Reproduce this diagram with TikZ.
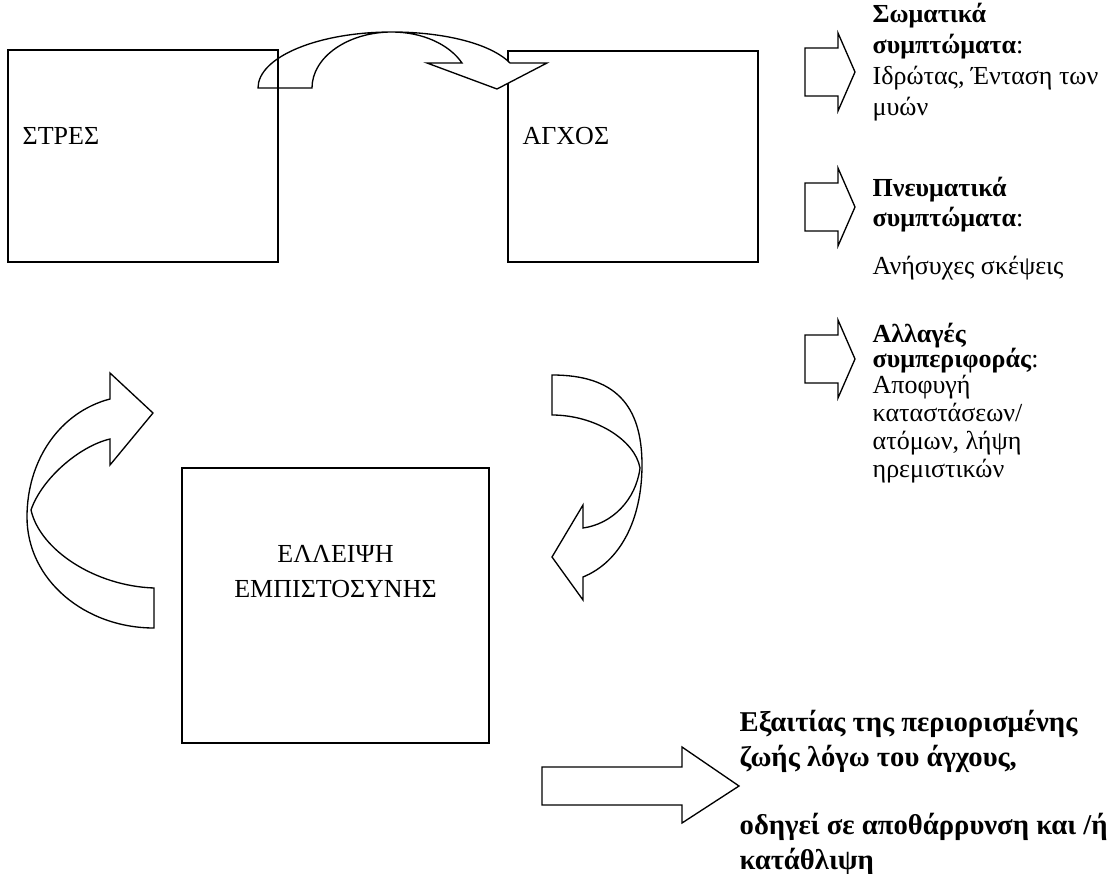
\documentclass[tikz,border=0pt]{standalone}
\usepackage{fontspec}
\setmainfont{Liberation Serif}
\begin{document}
\begin{tikzpicture}[x=0.75pt, y=-0.75pt, line width=1pt,
	box/.style={draw, line width=1pt},
	blockarrow/.style={draw, fill=white, line width=1pt, line join=miter},
	txt/.style={anchor=base west, inner sep=0pt, font=\fontsize{19.5}{22.5}\selectfont},
	ctxt/.style={txt, anchor=base},
	btxt/.style={txt, font=\fontsize{21.5}{26}\selectfont\bfseries}]
	\useasboundingbox (0,0) rectangle (1111,874);
	
	%boxes
	\draw[box] (508,51) rectangle (758,262);
	\draw[box] (182,468) rectangle (489,743);
	
	%arrow stres -> agxos
	\draw[blockarrow] (258,88) .. controls (258,57) and (318,32) .. (392,32)
		.. controls (443.6,32) and (490.8,43.5) .. (510,63) -- (547,63) -- (497,89) -- (427,63) -- (462,63)
		.. controls (448.9,43.9) and (421.7,32) .. (392,32)
		.. controls (348,32) and (312,57) .. (312,88) -- cycle;
	\draw[box] (8,50) rectangle (278,262);
	
	\node[txt] (stres) at (22,145) {ΣΤΡΕΣ};
	\node[txt] (agxos) at (522,145) {ΑΓΧΟΣ};
	\node[ctxt] (elleipsi) at (335.5,562) {ΕΛΛΕΙΨΗ};
	\node[ctxt] (empistosynis) at (335.5,597) {ΕΜΠΙΣΤΟΣΥΝΗΣ};
	
	%circle arrows
	\draw[blockarrow] (110,399) .. controls (60,412) and (27,460) .. (27,517)
		.. controls (27,580) and (85,628) .. (154,628) -- (154,588)
		.. controls (95,586) and (40,550) .. (31,510)
		.. controls (42,478) and (80,446) .. (110,439) -- (110,465) -- (153,413) -- (110,373) -- cycle;
	\draw[blockarrow] (552,375) .. controls (615,375) and (642,405) .. (642,465)
		.. controls (642,520) and (620,562) .. (583,577) -- (583,600) -- (552,557) -- (583,505) -- (583,528)
		.. controls (612,524) and (636,500) .. (640,468)
		.. controls (635,440) and (595,415) .. (552,415) -- cycle;
	
	%symptoms
	\foreach \c in {72, 207, 359}{
		\draw[blockarrow] (805,\c-24) -- (838,\c-24) -- (838,\c-39) -- (855,\c) -- (838,\c+39) -- (838,\c+24) -- (805,\c+24) -- cycle;
	}
	\foreach \y/\t [count=\i] in {23/{\textbf{Σωματικά}}, 54/{\textbf{συμπτώματα}:}, 85/{Ιδρώτας, Ένταση των}, 116/{μυών}}{
		\node[txt] (soma\i) at (872,\y) {\t};
	}
	\foreach \y/\t [count=\i] in {196/{\textbf{Πνευματικά}}, 226/{\textbf{συμπτώματα}:}, 274/{Ανήσυχες σκέψεις}}{
		\node[txt] (pneuma\i) at (872,\y) {\t};
	}
	\foreach \y/\t [count=\i] in {342/{\textbf{Αλλαγές}}, 367/{\textbf{συμπεριφοράς}:}, 393/{Αποφυγή}, 421/{καταστάσεων/}, 449/{ατόμων, λήψη}, 477/{ηρεμιστικών}}{
		\node[txt] (symp\i) at (872,\y) {\t};
	}
	
	%consequence
	\draw[blockarrow] (542,767) -- (682,767) -- (682,747) -- (739,786) -- (682,823) -- (682,805) -- (542,805) -- cycle;
	\foreach \y/\t [count=\i] in {731/{Εξαιτίας της περιορισμένης}, 766/{ζωής λόγω του άγχους,}, 834/{οδηγεί σε αποθάρρυνση και /ή}, 869/{κατάθλιψη}}{
		\node[btxt] (result\i) at (739,\y) {\t};
	}
\end{tikzpicture}
\end{document}
